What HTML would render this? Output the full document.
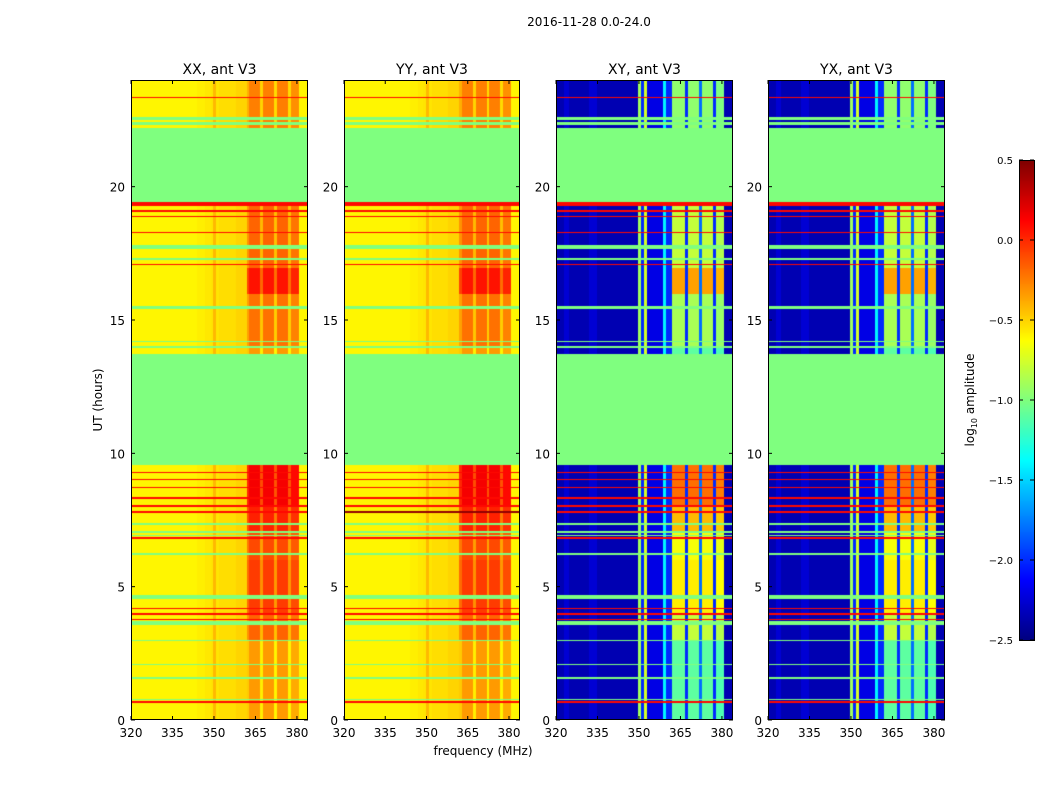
<!DOCTYPE html>
<html><head><meta charset="utf-8">
<style>
body{margin:0;background:#fff;width:1050px;height:800px;overflow:hidden;font-family:"Liberation Sans",sans-serif}
#wrap{position:relative;width:1050px;height:800px}
canvas{position:absolute}
svg{position:absolute;left:0;top:0}
</style></head>
<body>
<div id="wrap">
<canvas id="c0" width="177" height="640" style="left:131px;top:80px"></canvas>
<canvas id="c1" width="176" height="640" style="left:344px;top:80px"></canvas>
<canvas id="c2" width="177" height="640" style="left:556px;top:80px"></canvas>
<canvas id="c3" width="177" height="640" style="left:768px;top:80px"></canvas>
<canvas id="cb" width="15" height="480" style="left:1019px;top:160px"></canvas>
<svg id="ax" width="1050" height="800"></svg>
</div>
<script>
const vmin=-2.5, vmax=0.5;
const freqs=[];for(let f=320;f<384;f++)freqs.push(f);
const profPar=[-0.6,-0.6,-0.6,-0.6,-0.6,-0.6,-0.6,-0.6,-0.6,-0.6,-0.6,-0.6,-0.6,-0.6,-0.6,-0.6,-0.6,-0.6,-0.6,-0.6,-0.6,-0.6,-0.6,-0.6,-0.58,-0.58,-0.58,-0.56,-0.56,-0.55,-0.42,-0.55,-0.53,-0.53,-0.53,-0.53,-0.53,-0.53,-0.5,-0.5,-0.5,-0.5,-0.47,-0.33,-0.33,-0.33,-0.33,-0.58,-0.33,-0.33,-0.33,-0.33,-0.6,-0.33,-0.33,-0.33,-0.33,-0.6,-0.38,-0.38,-0.38,-0.6,-0.6,-0.6];
const profCross=[-2.35,-2.35,-2.35,-2.25,-2.25,-2.35,-2.35,-2.35,-2.35,-2.35,-2.35,-2.35,-2.25,-2.25,-2.25,-2.35,-2.35,-2.35,-2.35,-2.35,-2.35,-2.35,-2.35,-2.35,-2.35,-2.35,-2.35,-2.35,-2.35,-2.35,-0.9,-2.0,-0.75,-2.2,-2.2,-2.2,-2.2,-2.2,-2.2,-1.4,-2.0,-2.0,-1.1,-1.1,-1.1,-1.1,-1.1,-2.0,-1.1,-1.1,-1.1,-1.1,-1.8,-1.1,-1.1,-1.1,-1.1,-2.0,-1.15,-1.15,-1.15,-2.35,-2.35,-2.35];
const hourBoost=[0,0,0,0.2,0.35,0.35,0.3,0.45,0.6,0.6,0,0,0,0,0.15,0.15,0.5,0.2,0.2,0.2,0,0,0.1,0.1];
const flagBands=[[9.6,13.75],[19.45,22.25],[22.35,22.45],[22.55,22.62],[3.55,3.7],[4.55,4.7],[7.3,7.4],[6.9,6.95],[15.45,15.55],[17.7,17.85],[14.0,14.05],[2.95,3.0],[2.1,2.15],[1.6,1.65],[0.8,0.85],[17.3,17.35],[7.0,7.1],[14.2,14.25],[6.2,6.25]];
const redBands=[[19.3,19.42],[18.9,18.95],[18.3,18.35],[19.1,19.15],[9.25,9.3],[9.0,9.05],[8.7,8.75],[8.3,8.35],[8.0,8.05],[7.75,7.85],[4.15,4.2],[3.95,4.0],[3.75,3.8],[23.35,23.4],[17.1,17.15],[6.8,6.85],[0.7,0.72]];
const panelTitles=["XX, ant V3","YY, ant V3","XY, ant V3","YX, ant V3"];
const xTicks=[320,335,350,365,380];
const yTicks=[0,5,10,15,20];
const cbTicks=[0.5,0.0,-0.5,-1.0,-1.5,-2.0,-2.5];
const panelLeft=[131,344,556,768], panelW=[177,176,177,177], top0=80, H=640;
const fmin=320,fmax=384,tmax=24;
function jet(v){let x=(v-vmin)/(vmax-vmin);x=Math.max(0,Math.min(1,x));
 const c=t=>Math.max(0,Math.min(1,t));
 const r=c(1.5-Math.abs(4*x-3)),g=c(1.5-Math.abs(4*x-2)),b=c(1.5-Math.abs(4*x-1));
 return `rgb(${r*255|0},${g*255|0},${b*255|0})`;}
function inB(t,arr){return arr.some(b=>t>=b[0]&&t<b[1]);}
const dt=0.05;
[0,1,2,3].forEach(p=>{
 const cv=document.getElementById('c'+p),ctx=cv.getContext('2d'),W=panelW[p];
 const xs=f=>(f-fmin)/(fmax-fmin)*W, ys=t=>H-t/tmax*H;
 const prof=p<2?profPar:profCross;
 for(let t=0;t<tmax;t+=dt){
  const y0=ys(t+dt),y1=ys(t);
  freqs.forEach((f,i)=>{
   let v;
   if(inB(t,flagBands))v=-1.0;
   else if(inB(t,redBands))v=(p==1&&t>=7.75&&t<7.85)?0.45:0.1;
   else{v=prof[i];if(f>=362&&f<381&&prof[i]>-1.5)v+=hourBoost[Math.floor(t)]*(p<2?0.8:1.5);}
   ctx.fillStyle=jet(Math.min(v,0.48));
   ctx.fillRect(Math.floor(xs(f)),Math.floor(y0),Math.ceil(xs(f+1)-xs(f))+1,Math.ceil(y1-y0)+1);
  });
 }
});
const cb=document.getElementById('cb').getContext('2d');
for(let i=0;i<480;i++){cb.fillStyle=jet(vmax-(i/480)*(vmax-vmin));cb.fillRect(0,i,15,1);}
const NS='http://www.w3.org/2000/svg',svg=document.getElementById('ax');
function el(tag,a,txt){const e=document.createElementNS(NS,tag);for(const k in a)e.setAttribute(k,a[k]);if(txt!=null)e.textContent=txt;svg.appendChild(e);return e;}
const ft='font-family:"DejaVu Sans","Liberation Sans",sans-serif';
let e=el('text',{x:589,y:26,'text-anchor':'middle','font-size':12,style:ft},'2016-11-28 0.0-24.0');

[0,1,2,3].forEach(p=>{
 const L=panelLeft[p],W=panelW[p];
 const xs=f=>L+(f-fmin)/(fmax-fmin)*W, ys=t=>top0+H-t/tmax*H;
 let r=el('rect',{x:L+0.5,y:top0+0.5,width:W-1,height:H-1,fill:'none',stroke:'#000'});
 
 let t=el('text',{x:L+W/2,y:74,'text-anchor':'middle','font-size':14,style:ft},panelTitles[p]);
 
 xTicks.forEach(v=>{const x=xs(v);el('line',{x1:x,x2:x,y1:top0+H,y2:top0+H-4,stroke:'#000'});el('line',{x1:x,x2:x,y1:top0,y2:top0+4,stroke:'#000'});
  const l=el('text',{x:x,y:top0+H+17,'text-anchor':'middle','font-size':12,style:ft},String(v));
  });
 yTicks.forEach(v=>{const y=ys(v);el('line',{x1:L,x2:L+4,y1:y,y2:y,stroke:'#000'});el('line',{x1:L+W,x2:L+W-4,y1:y,y2:y,stroke:'#000'});
  const l=el('text',{x:L-6,y:y+5,'text-anchor':'end','font-size':12,style:ft},String(v));
  });
});
e=el('text',{x:483,y:755,'text-anchor':'middle','font-size':12,style:ft},'frequency (MHz)');

e=el('text',{x:102,y:400,'text-anchor':'middle','font-size':12,style:ft,transform:'rotate(-90 102 400)'},'UT (hours)');

e=el('rect',{x:1019.5,y:160.5,width:15,height:480,fill:'none',stroke:'#000'});

cbTicks.forEach(v=>{const y=160+(vmax-v)/(vmax-vmin)*480;el('line',{x1:1019,x2:1023,y1:y,y2:y,stroke:'#000'});el('line',{x1:1034,x2:1030,y1:y,y2:y,stroke:'#000'});
 const l=el('text',{x:1013,y:y+4,'text-anchor':'end','font-size':10,style:ft},(v<0?'\u2212':'')+Math.abs(v).toFixed(1));
 });
e=el('text',{x:974,y:400,'text-anchor':'middle','font-size':12,style:ft,transform:'rotate(-90 974 400)'});
e.innerHTML='log<tspan font-size="8" dy="3">10</tspan><tspan dy="-3"> amplitude</tspan>';

</script>
</body></html>
